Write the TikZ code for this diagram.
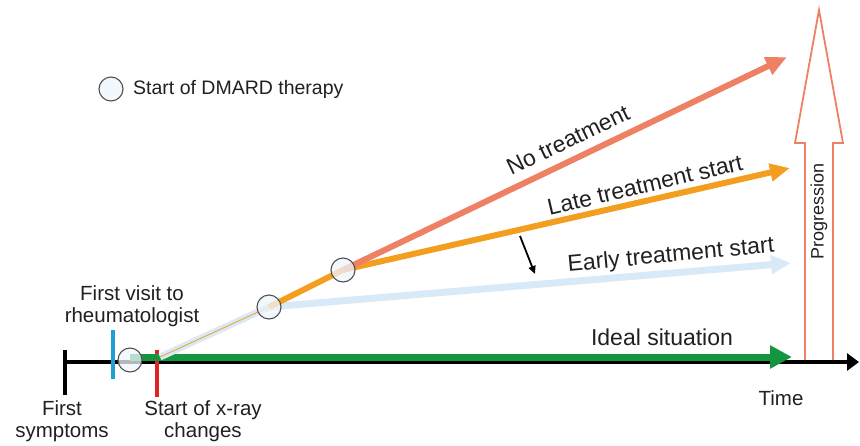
\documentclass[tikz,border=0pt]{standalone}
\usepackage{fontspec}
\setmainfont{Liberation Sans}
\usetikzlibrary{arrows.meta}
\definecolor{salmon}{RGB}{238,128,100}
\definecolor{orng}{RGB}{244,158,32}
\definecolor{ltblue}{RGB}{216,233,248}
\definecolor{grn}{RGB}{20,150,65}
\definecolor{tickblue}{RGB}{30,160,215}
\definecolor{tickred}{RGB}{225,35,35}
\definecolor{txt}{RGB}{35,31,32}
\definecolor{ring}{RGB}{80,80,80}
\begin{document}
\begin{tikzpicture}[x=1pt,y=-1pt,
  dmard/.style={circle,draw=ring,line width=1.1pt,fill=ltblue!40!white,fill opacity=0.75,minimum size=24pt,inner sep=0pt},
  lbl/.style={text=txt,font=\fontsize{23}{26}\selectfont,inner sep=0pt},
  small/.style={text=txt,font=\fontsize{20.5}{22.5}\selectfont,align=center,inner sep=0pt},
  tickmark/.style={line width=4pt},
  trend/.style={line width=6pt,line cap=butt,line join=round}
]
\useasboundingbox (0,0) rectangle (860,445);
% coordinates
\coordinate (o) at (160,357);
\coordinate (p1) at (130,360);
\coordinate (p2) at (269,307);
\coordinate (p3) at (343,270);
\coordinate (tipS) at (787,57);
\coordinate (tipO) at (790,168);
\coordinate (tipB) at (791,263);
\coordinate (tipG) at (792,357);
\coordinate (axL) at (64,362);
\coordinate (axR) at (859,362);
% progression arrow
\node[lbl,rotate=90,font=\fontsize{18}{20}\selectfont] (prog) at (819,211) {Progression};
\draw[salmon,line width=1.8pt,line join=miter]
  (805,360) -- (805,143) -- (795,143) -- (819,10) -- (843,143) -- (833,143) -- (833,360);
% axis
\draw[line width=4pt,-{Triangle[length=12pt,width=17pt]}] (axL) -- (axR);
% ticks
\draw[tickmark,black] (65,350) -- (65,395);
\draw[tickmark,tickblue] (113,330) -- (113,379);
\draw[tickmark,tickred] (157,350) -- (157,397);
% green ideal
\draw[grn,line width=7pt,-{Triangle[length=22pt,width=22pt]}] (p1) ++(0,-3) -- (tipG);
% light blue early
\draw[ltblue,trend,line width=7pt,-{Triangle[length=20pt,width=18pt]}] (o) -- (p2) -- (tipB);
% orange thin then late
\draw[orng,line width=0.8pt] (o) -- (p2);
\draw[orng,trend,-{Triangle[length=20pt,width=17pt]}] (p2) -- (p3) -- (tipO);
% salmon no treatment
\draw[salmon,trend,-{Triangle[length=21pt,width=18pt]}] (p3) -- (tipS);
% dmard circles
\node[dmard] (c1) at (p1) {};
\node[dmard] (c2) at (p2) {};
\node[dmard] (c3) at (p3) {};
% small shift arrow
\coordinate (sa) at (520,236);
\coordinate (sb) at (535,274);
\draw[line width=1.8pt,-{Triangle[length=8pt,width=7pt]}] (sa) -- (sb);
% labels
\node[lbl,rotate=25.6] (lno) at (568,140) {No treatment};
\node[lbl,rotate=13.2] (llate) at (645,185) {Late treatment start};
\node[lbl,rotate=5.3] (learly) at (671,256) {Early treatment start};
\node[lbl] (lideal) at (662,337) {Ideal situation};
\node[small] (ltime) at (781,398) {Time};
\node[small] (lfirst) at (62,421) {First\\symptoms};
\node[small] (lxray) at (203,421) {Start of x-ray\\changes};
\node[small] (lvisit) at (132,306) {First visit to\\rheumatologist};
% legend
\node[dmard] (leg) at (111,89) {};
\node[text=txt,font=\fontsize{19.5}{22}\selectfont,anchor=west,inner sep=0pt] (legt) at (133,89) {Start of DMARD therapy};
\end{tikzpicture}
\end{document}
